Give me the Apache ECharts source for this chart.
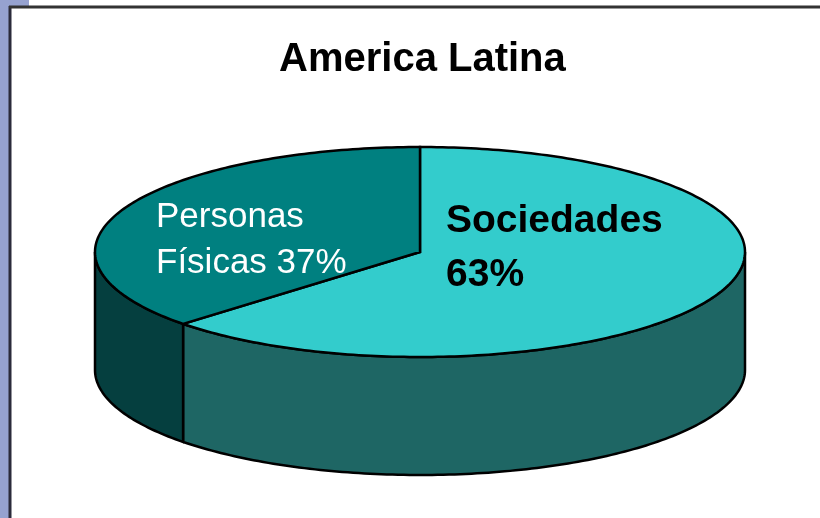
<!DOCTYPE html>
<html>
<head>
<meta charset="utf-8">
<script src="https://cdn.jsdelivr.net/npm/echarts@6/dist/echarts.min.js"></script>
<style>
  html, body { margin: 0; padding: 0; background: #fff; }
  #main { width: 820px; height: 518px; }
</style>
</head>
<body>
<div id="main"></div>
<script>
const chartTitle = 'America Latina';
const categories = ['Sociedades', 'Personas Físicas'];
const shares = [63, 37];
const labelTexts = ['Sociedades\n63%', 'Personas\nFísicas 37%'];

const topColors = ['#33cccc', '#008080'];
const sideColors = ['#1e6664', '#053f3f'];

// pie geometry (pixels)
const cx = 420, cy = 252, rx = 325, ry = 105, depth = 118;
const total = shares.reduce((a, b) => a + b, 0);

function pt(deg, dy) {
    const r = deg * Math.PI / 180;
    return [cx + rx * Math.sin(r), cy - ry * Math.cos(r) + (dy || 0)];
}

function arc(a0, a1, dy) {
    const pts = [];
    const n = Math.max(2, Math.ceil(Math.abs(a1 - a0)));
    for (let i = 0; i <= n; i++) {
        pts.push(pt(a0 + (a1 - a0) * i / n, dy));
    }
    return pts;
}

const labelStyles = [
    {x: 446, y: 248, fill: '#000', font: 'bold 39px "Liberation Sans"', lineHeight: 54},
    {x: 156, y: 240, fill: '#fff', font: '35px "Liberation Sans"', lineHeight: 46}
];

function renderSlice(params, api) {
    const i = params.dataIndex;
    let start = 0;
    for (let k = 0; k < i; k++) start += shares[k] / total * 360;
    const end = start + api.value(0) / total * 360;
    const children = [];

    // visible side wall (front half: 90..270 deg)
    const s = Math.max(start, 90), e = Math.min(end, 270);
    if (e > s) {
        const pts = arc(s, e, 0).concat(arc(e, s, depth));
        children.push({
            type: 'polygon',
            shape: {points: pts},
            style: {fill: sideColors[i], stroke: '#000', lineWidth: 2.5}
        });
    }
    // top face
    children.push({
        type: 'polygon',
        shape: {points: [[cx, cy]].concat(arc(start, end, 0))},
        style: {fill: topColors[i], stroke: '#000', lineWidth: 2.5}
    });
    const ls = labelStyles[i];
    children.push({
        type: 'text',
        style: {
            text: labelTexts[i], x: ls.x, y: ls.y, fill: ls.fill, font: ls.font,
            lineHeight: ls.lineHeight, align: 'left', verticalAlign: 'middle'
        }
    });
    return {type: 'group', children: children};
}

const chart = echarts.init(document.getElementById('main'));
chart.setOption({
    backgroundColor: '#fff',
    animation: false,
    title: {
        text: chartTitle,
        left: 274,
        top: 35,
        textStyle: {fontFamily: 'Liberation Sans', fontWeight: 'bold', fontSize: 40, color: '#000'}
    },
    graphic: [
        {type: 'rect', shape: {x: 0, y: 0, width: 9, height: 518}, style: {fill: '#96a2d0'}},
        {type: 'rect', shape: {x: 0, y: 0, width: 29, height: 6}, style: {fill: '#96a2d0'}},
        {type: 'line', shape: {x1: 10, y1: 6, x2: 10, y2: 518}, style: {stroke: '#2b2b3b', lineWidth: 3}},
        {type: 'line', shape: {x1: 9, y1: 7, x2: 820, y2: 7}, style: {stroke: '#333', lineWidth: 3}}
    ],
    series: [{
        type: 'custom',
        coordinateSystem: 'none',
        renderItem: renderSlice,
        data: shares.map((v, i) => ({name: categories[i], value: [v]}))
    }]
});
</script>
</body>
</html>
